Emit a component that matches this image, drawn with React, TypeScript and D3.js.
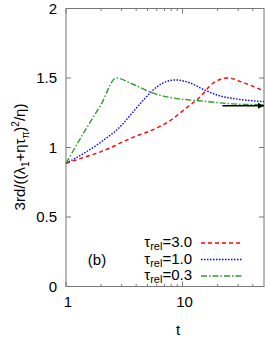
import { useEffect, useRef } from 'react'
import * as d3 from 'd3'

// tau_rel = 3.0 (red, dashed)
const redT = [1, 1.5, 2, 3.7, 6.1, 8.2, 10.6, 14, 18.1, 24.4, 32.9, 50]
const redV = [0.886, 0.935, 0.97, 1.071, 1.143, 1.205, 1.28, 1.36, 1.46, 1.5, 1.468, 1.407]

// tau_rel = 1.0 (blue, dotted)
const blueT = [1, 2, 3, 3.71, 4.8, 6.1, 8.7, 11.5, 14.9, 20.8, 28.6, 50]
const blueV = [0.886, 1.04, 1.16, 1.25, 1.357, 1.44, 1.486, 1.466, 1.42, 1.372, 1.35, 1.33]

// tau_rel = 0.3 (green, dash-dot)
const greenT = [1, 1.5, 2, 2.7, 3.71, 5.5, 8.2, 14, 27, 50]
const greenV = [0.886, 1.14, 1.31, 1.5, 1.457, 1.393, 1.357, 1.336, 1.314, 1.307]

// asymptote arrow
const arrowT = [22, 50]
const arrowV = 1.3

const yTicks = [0, 0.5, 1, 1.5, 2]
const xMajor = [1, 10]
const xMinor = [2, 3, 4, 5, 6, 7, 8, 9, 20, 30, 40]

const legend = [
  { label: '3.0', color: '#ff0000', dash: '4,3' },
  { label: '1.0', color: '#0000ff', dash: '1.5,1.5' },
  { label: '0.3', color: '#2e9a2e', dash: '6,2,1.5,2' }
]

export default function App() {
  const ref = useRef<SVGSVGElement>(null)

  useEffect(() => {
    const svg = d3.select(ref.current)
    svg.selectAll('*').remove()

    const left = 66, right = 264, top = 8.5, bottom = 286.5
    const font = 'Liberation Sans, Arial, sans-serif'

    const x = d3.scaleLog().domain([1, 50]).range([left, right])
    const y = d3.scaleLinear().domain([0, 2]).range([bottom, top])

    const defs = svg.append('defs')
    defs.append('marker')
      .attr('id', 'arr')
      .attr('viewBox', '0 0 10 10')
      .attr('refX', 10).attr('refY', 5)
      .attr('markerWidth', 8).attr('markerHeight', 6)
      .attr('markerUnits', 'userSpaceOnUse')
      .attr('orient', 'auto')
      .append('path')
      .attr('d', 'M0,0 L10,5 L0,10 Z')
      .attr('fill', '#000')

    // frame
    svg.append('rect')
      .attr('x', left).attr('y', top)
      .attr('width', right - left).attr('height', bottom - top)
      .attr('fill', 'none').attr('stroke', '#777').attr('stroke-width', 1)

    const g = svg.append('g').attr('stroke', '#777').attr('stroke-width', 1)

    // y ticks both sides
    yTicks.forEach(v => {
      g.append('line').attr('x1', left).attr('x2', left + 5).attr('y1', y(v)).attr('y2', y(v))
      g.append('line').attr('x1', right - 5).attr('x2', right).attr('y1', y(v)).attr('y2', y(v))
    })
    // x ticks top and bottom
    xMajor.forEach(t => {
      g.append('line').attr('x1', x(t)).attr('x2', x(t)).attr('y1', bottom).attr('y2', bottom - 5)
      g.append('line').attr('x1', x(t)).attr('x2', x(t)).attr('y1', top).attr('y2', top + 5)
    })
    xMinor.forEach(t => {
      g.append('line').attr('x1', x(t)).attr('x2', x(t)).attr('y1', bottom).attr('y2', bottom - 2.5)
      g.append('line').attr('x1', x(t)).attr('x2', x(t)).attr('y1', top).attr('y2', top + 2.5)
    })

    // y tick labels
    svg.append('g').selectAll('text')
      .data(yTicks).enter().append('text')
      .attr('x', 57).attr('y', d => y(d) + 5)
      .attr('text-anchor', 'end')
      .attr('font-family', font).attr('font-size', 15)
      .text(d => String(d))

    // x tick labels
    svg.append('g').selectAll('text')
      .data(xMajor).enter().append('text')
      .attr('x', d => x(d) + 2).attr('y', 307)
      .attr('text-anchor', 'middle')
      .attr('font-family', font).attr('font-size', 15)
      .text(d => String(d))

    svg.append('text')
      .attr('x', 178).attr('y', 335)
      .attr('text-anchor', 'middle')
      .attr('font-family', font).attr('font-size', 15)
      .text('t')

    // y axis label
    const yl = svg.append('text')
      .attr('transform', 'translate(25,157) rotate(-90)')
      .attr('text-anchor', 'middle')
      .attr('font-family', font).attr('font-size', 15)
    yl.append('tspan').text('3rd/((λ')
    yl.append('tspan').attr('font-size', 10).attr('dy', 4).text('1')
    yl.append('tspan').attr('dy', -4).text('+ητ')
    yl.append('tspan').attr('font-size', 10).attr('dy', 4).text('π')
    yl.append('tspan').attr('dy', -4).text(')')
    yl.append('tspan').attr('font-size', 10).attr('dy', -6).text('2')
    yl.append('tspan').attr('dy', 6).text('/η)')

    // curves
    const line = d3.line<[number, number]>()
      .x(d => x(d[0]))
      .y(d => y(d[1]))
      .curve(d3.curveMonotoneX)

    const series = [
      { t: redT, v: redV, ...legend[0] },
      { t: blueT, v: blueV, ...legend[1] },
      { t: greenT, v: greenV, ...legend[2] }
    ]
    series.forEach(s => {
      svg.append('path')
        .datum(s.t.map((t, i) => [t, s.v[i]] as [number, number]))
        .attr('fill', 'none')
        .attr('stroke', s.color)
        .attr('stroke-width', 1.4)
        .attr('stroke-dasharray', s.dash)
        .attr('d', line)
    })

    // arrow
    svg.append('line')
      .attr('x1', x(arrowT[0])).attr('x2', x(arrowT[1]))
      .attr('y1', y(arrowV)).attr('y2', y(arrowV))
      .attr('stroke', '#000').attr('stroke-width', 1.5)
      .attr('marker-end', 'url(#arr)')

    // legend
    legend.forEach((d, i) => {
      const ly = 243 + i * 16.5
      const t = svg.append('text')
        .attr('x', 192).attr('y', ly + 4)
        .attr('text-anchor', 'end')
        .attr('font-family', font).attr('font-size', 15)
      t.append('tspan').text('τ')
      t.append('tspan').attr('font-size', 11).attr('dy', 3).text('rel')
      t.append('tspan').attr('dy', -3).text('=' + d.label)
      svg.append('line')
        .attr('x1', 201).attr('x2', 242)
        .attr('y1', ly).attr('y2', ly)
        .attr('stroke', d.color).attr('stroke-width', 1.4)
        .attr('stroke-dasharray', d.dash)
    })

    svg.append('text')
      .attr('x', 97).attr('y', 265)
      .attr('text-anchor', 'middle')
      .attr('font-family', font).attr('font-size', 15)
      .text('(b)')
  }, [])

  return (
    <svg
      ref={ref}
      width={266}
      height={340}
      style={{ position: 'absolute', left: 0, top: 0, background: '#fff' }}
    />
  )
}
